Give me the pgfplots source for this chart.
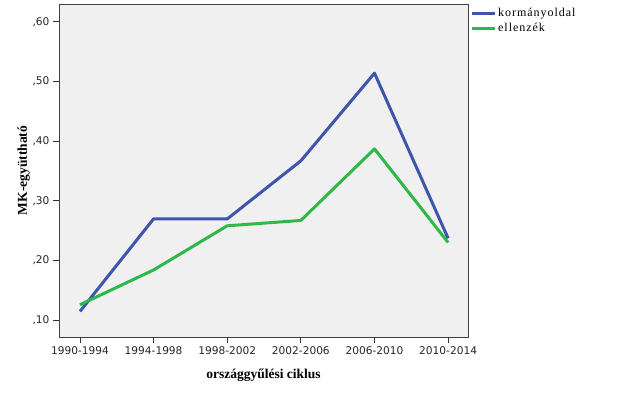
\documentclass[border=0pt]{standalone}
\usepackage{pgfplots}
\pgfplotsset{compat=1.18}
\usepackage{fontspec}
\setmainfont{Liberation Serif}
\newfontfamily\ticksfont{DejaVu Sans}
\newfontfamily\legfont[LetterSpace=8]{Liberation Serif}
\definecolor{bgc}{HTML}{F0F0F0}
\definecolor{kblue}{HTML}{3D56AB}
\definecolor{egreen}{HTML}{2EB84A}
\begin{document}
\begin{tikzpicture}
\begin{axis}[
  name=ax,
  scale only axis, width=409pt, height=333pt,
  xmin=-0.285, xmax=5.27, ymin=0.0715, ymax=0.630,
  axis background/.style={fill=bgc},
  axis line style={draw=black!75, line width=0.9pt},
  xtick={0,1,2,3,4,5},
  xticklabels={1990-1994,1994-1998,1998-2002,2002-2006,2006-2010,2010-2014},
  ytick={0.1,0.2,0.3,0.4,0.5,0.6},
  yticklabels={{,10},{,20},{,30},{,40},{,50},{,60}},
  tick align=outside, tick pos=left,
  major tick length=6pt,
  tick style={black!80, line width=0.9pt},
  tick label style={font=\ticksfont\fontsize{10.6}{12}\selectfont, text=black!85},
  xlabel={\textbf{országgyűlési ciklus}},
  ylabel={\textbf{MK-együttható}},
  label style={font=\fontsize{13.5}{15}\selectfont},
  xlabel style={yshift=-8pt},
  ylabel style={yshift=-4pt},
  legend style={at={(1,1)}, anchor=north west, xshift=1pt, yshift=-1pt, draw=none, fill=none,
    font=\legfont\fontsize{12}{13}\selectfont, row sep=1.5pt, inner sep=1pt},
  legend cell align=left,
  legend image code/.code={\draw[#1, line width=3pt] (0,0) -- (23pt,0);},
]
\addplot[kblue, line width=3pt, line join=round] coordinates {
(0,0.1144) (1,0.2697) (2,0.2695) (3,0.367) (4,0.514) (5,0.237)};
\addlegendentry{kormányoldal}
\addplot[egreen, line width=3pt, line join=round] coordinates {
(0,0.1256) (1,0.184) (2,0.258) (3,0.267) (4,0.387) (5,0.230)};
\addlegendentry{ellenzék}
\end{axis}
\useasboundingbox ([shift={(-59pt,-57pt)}]ax.south west) rectangle ++(626pt,394pt);
\end{tikzpicture}
\end{document}
